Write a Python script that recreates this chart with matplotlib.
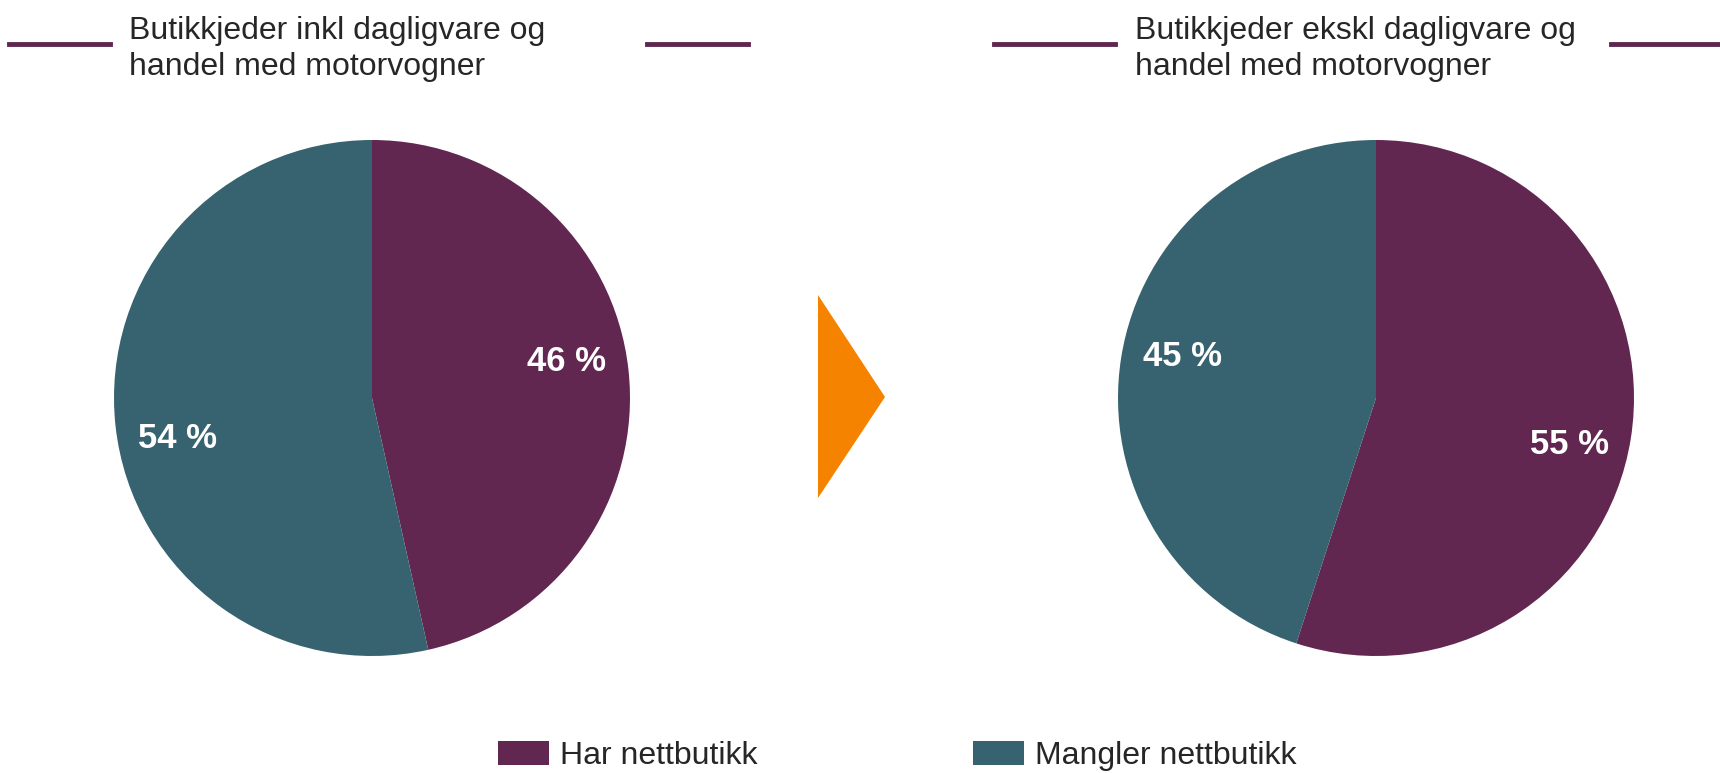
import matplotlib
matplotlib.use("Agg")
import matplotlib.pyplot as plt
from matplotlib.lines import Line2D
from matplotlib.patches import Polygon, Patch

plt.rcParams['font.family'] = ['Liberation Sans', 'DejaVu Sans']

categories = ["Har nettbutikk", "Mangler nettbutikk"]
titles = ["Butikkjeder inkl dagligvare og\nhandel med motorvogner",
          "Butikkjeder ekskl dagligvare og\nhandel med motorvogner"]
values_left = [46.5, 53.5]
values_right = [55, 45]
labels_left = ["46 %", "54 %"]
labels_right = ["55 %", "45 %"]
colors = ["#612750", "#36636F"]
accent = "#5F2750"
arrow_color = "#F58300"

# label placement (pie-radius units)
label_pos_left = [(0.753, 0.140), (-0.753, -0.157)]
label_pos_right = [(0.749, -0.179), (-0.749, 0.162)]

W, H = 1720, 773
fig = plt.figure(figsize=(W / 100, H / 100), dpi=100)

def px_axes(cx, cy, r):
    return fig.add_axes([(cx - r) / W, (H - cy - r) / H, 2 * r / W, 2 * r / H])

for cx, vals, labs, poss in [(372, values_left, labels_left, label_pos_left),
                             (1376, values_right, labels_right, label_pos_right)]:
    ax = px_axes(cx, 398, 258)
    ax.pie(vals, colors=colors, startangle=90, counterclock=False,
           wedgeprops=dict(linewidth=0))
    for lab, (x, y) in zip(labs, poss):
        ax.text(x, y, lab, color="white", fontsize=25, fontweight="bold",
                ha="center", va="center")
    ax.set_xlim(-1, 1)
    ax.set_ylim(-1, 1)
    ax.set_aspect("equal")
    ax.axis("off")

# titles with side lines
for tx, title, segs in [(129, titles[0], [(9, 110), (647, 748)]),
                        (1135, titles[1], [(994, 1115), (1611, 1720)])]:
    fig.text(tx / W, 1 - 49 / H, title, fontsize=23, color="#262626",
             ha="left", va="center", linespacing=1.26)
    for x0, x1 in segs:
        fig.add_artist(Line2D([x0 / W, x1 / W], [1 - 44 / H, 1 - 44 / H],
                              color=accent, linewidth=3.5,
                              transform=fig.transFigure))

# arrow
fig.add_artist(Polygon([(818 / W, 1 - 295 / H), (885 / W, 1 - 397 / H),
                        (818 / W, 1 - 498 / H)], closed=True,
                       facecolor=arrow_color, edgecolor="none",
                       transform=fig.transFigure))

# legend
handles = [Patch(facecolor=c, edgecolor="none") for c in colors]
leg = fig.legend(handles, categories, loc="center", ncol=2,
                 bbox_to_anchor=(897 / W, 1 - 756 / H),
                 frameon=False, fontsize=23, handlelength=1.6,
                 handleheight=0.75, columnspacing=6.75, handletextpad=0.34,
                 labelcolor="#262626", borderpad=0, borderaxespad=0)

fig.savefig("out.png", dpi=100)
